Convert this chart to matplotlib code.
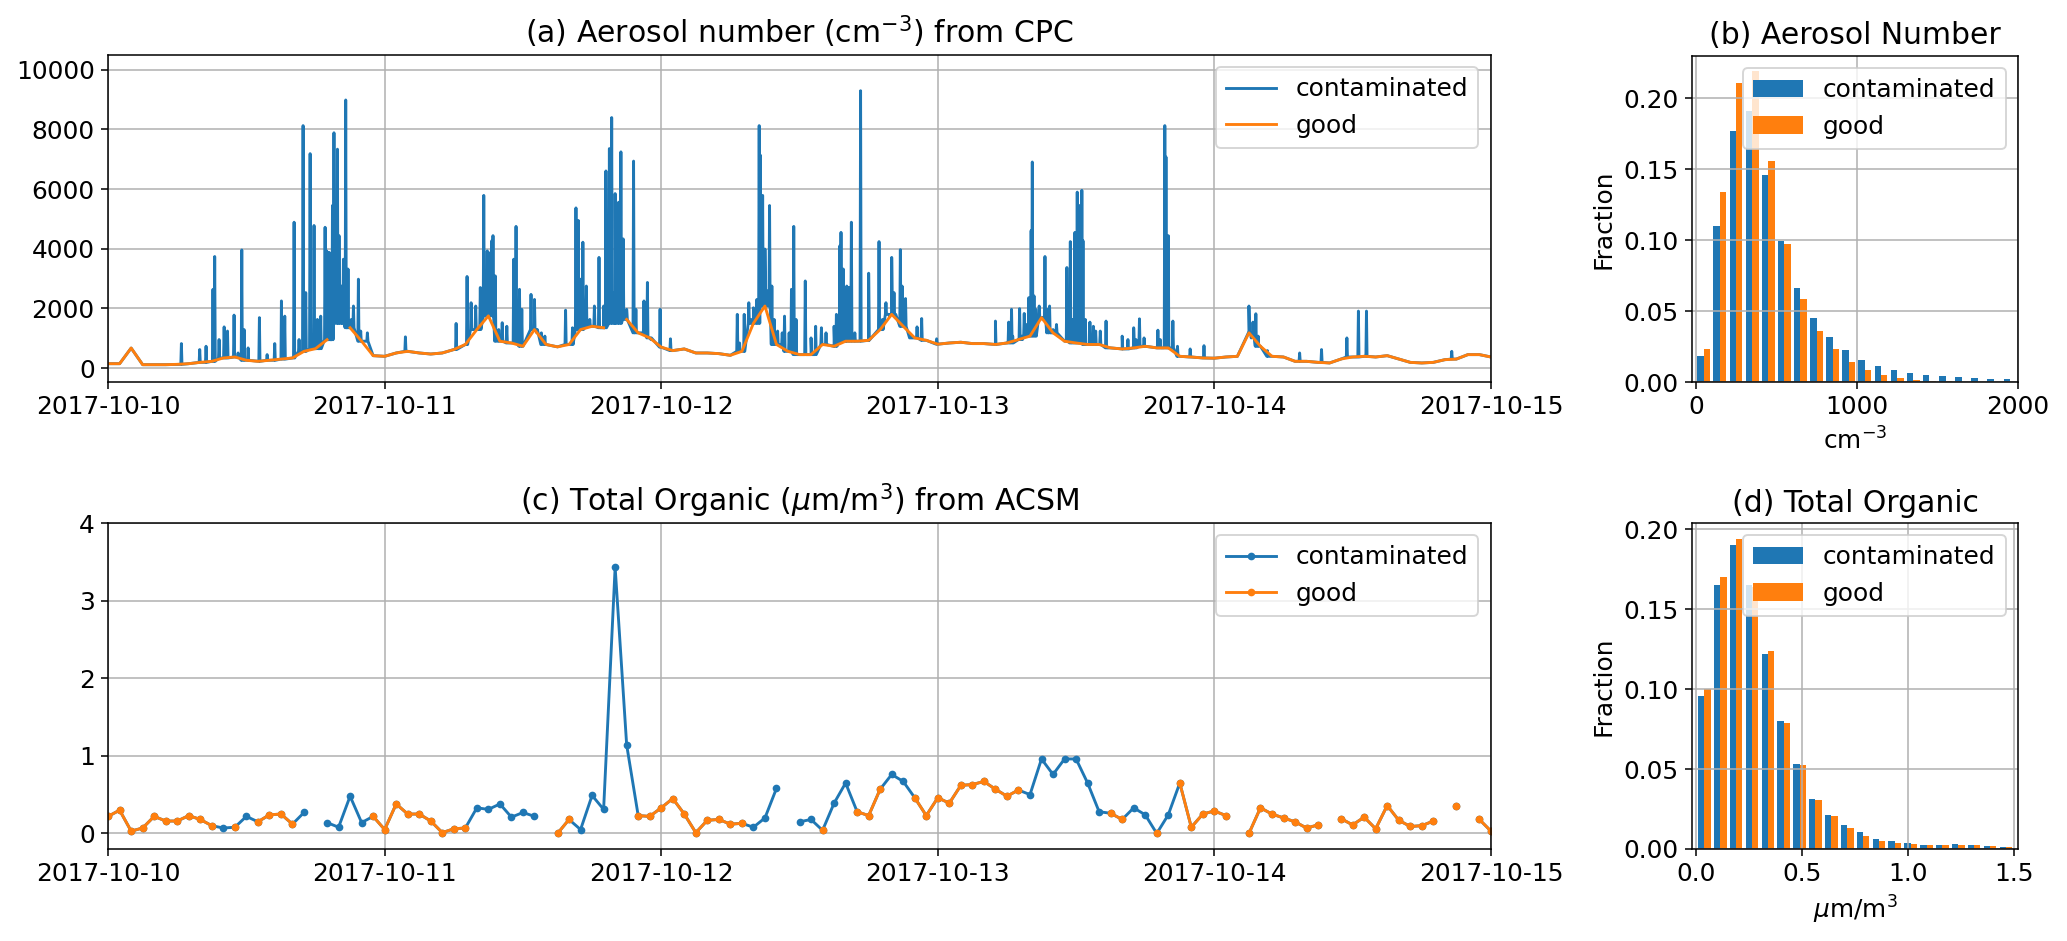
import matplotlib
matplotlib.use("Agg")
import matplotlib.pyplot as plt
import matplotlib.dates as mdates
import numpy as np
import pandas as pd

plt.rcParams["font.size"] = 13

start = pd.Timestamp("2017-10-10")
end = pd.Timestamp("2017-10-15")

# CPC aerosol number: hourly background (cm^-3), hours 0..120 from 2017-10-10 00:00
cpc_base = [146, 146, 670, 112, 112, 112, 124, 146, 190, 225, 337, 370, 260, 225, 260, 300, 337, 560, 650, 950, 1500, 1350, 900, 415,
            393, 505, 560, 505, 470, 505, 620, 790, 1290, 1750, 900, 840, 730, 1290, 790, 710, 790, 1290, 1400, 1350, 1500, 1630, 1180, 1010,
            700, 585, 640, 505, 505, 483, 427, 560, 1500, 2080, 790, 560, 450, 450, 790, 730, 900, 900, 930, 1290, 1800, 1400, 1010, 930,
            800, 840, 865, 820, 820, 790, 840, 955, 1070, 1690, 1180, 900, 840, 790, 790, 675, 640, 675, 730, 675, 675, 393, 370, 337,
            330, 370, 393, 1180, 730, 393, 370, 225, 225, 190, 170, 303, 370, 393, 370, 415, 303, 190, 170, 190, 280, 300, 450, 450, 370]
# hours where the whole hour is flagged as contaminated
cpc_masked_hours = [20, 44]

# contamination spikes: (hour, cm^-3)
spike_hours = [6.36, 7.95, 8.5, 9.1, 9.25, 9.63, 10.07, 10.36, 10.93, 11.28, 11.6, 11.8, 12.15, 13.13, 13.8, 14.46, 15.04, 15.33,
               16.14, 16.57, 16.92, 17.15, 17.53, 17.87, 18.16, 18.45, 18.83, 18.97, 19.18, 19.47, 19.6, 19.9, 20.04, 20.25, 20.42,
               20.62, 20.82, 21.11, 21.29, 21.72, 21.92, 22.5,
               25.8, 30.2, 31.15, 31.5, 31.9, 32.3, 32.6, 32.9, 33.0, 33.3, 33.4, 33.6, 33.9, 34.2, 34.6, 35.2, 35.4, 35.7, 35.9,
               36.7, 37.0, 37.2, 37.6, 37.9, 39.7, 40.3, 40.6, 40.8, 41.0, 41.2, 41.5, 41.8, 42.2, 42.6, 43.0, 43.2, 43.5, 43.7,
               43.9, 44.0, 44.3, 44.5, 44.7, 45.0, 45.6, 45.8, 46.5, 46.8, 47.1, 47.9,
               48.8, 54.6, 54.8, 55.2, 55.6, 55.8, 56.0, 56.3, 56.5, 56.6, 56.8, 57.0, 57.2, 57.4, 57.6, 57.8, 58.1, 58.5, 58.7,
               59.1, 59.3, 59.5, 59.7, 60.5, 61.0, 61.4, 61.9, 62.3, 63.0, 63.2, 63.5, 63.6, 63.8, 64.0, 64.1, 64.3, 64.5, 64.8,
               65.3, 66.0, 66.9, 67.2, 67.5, 67.8, 68.0, 68.2, 68.3, 68.75, 68.9, 69.2, 69.6, 70.2, 70.6, 71.9,
               77.0, 78.15, 78.4, 78.5, 79.1, 79.3, 79.5, 79.7, 79.9, 80.1, 80.2, 80.35, 80.5, 80.8, 81.1, 81.3, 81.5, 81.7,
               82.0, 82.3, 83.2, 83.5, 83.7, 83.9, 84.1, 84.3, 84.5, 84.6, 84.8, 85.2, 85.5, 85.7, 86.1, 86.6, 88.0, 88.5, 89.0,
               89.2, 89.5, 89.9, 91.1, 91.3, 91.7, 91.8, 92.0, 92.4, 92.8, 93.9, 95.1,
               99.0, 99.2, 99.35, 99.6, 99.8, 100.6, 103.4, 105.3, 107.5, 108.5, 109.2, 116.6]
spike_values = [820, 620, 730, 2640, 3740, 955, 1380, 1240, 1775, 505, 3960, 1290, 675, 1690, 450, 820, 2250, 1740,
                4890, 955, 8130, 2530, 7190, 4780, 1630, 1740, 4720, 3930, 3880, 5450, 7890, 7340, 4440, 2750, 3650,
                8990, 3320, 1630, 2080, 2980, 1240, 1180,
                1045, 1495, 3070, 2190, 2080, 2700, 5790, 3930, 3880, 4270, 4440, 3090, 1290, 1520, 1400, 3650, 4750, 2640, 1970,
                2470, 2300, 1180, 1180, 1070, 1940, 1350, 5370, 4950, 2980, 4220, 2750, 1630, 2080, 3710, 2080, 6610, 7360, 8400,
                2530, 5850, 5560, 7250, 4330, 1970, 6940, 1970, 2250, 2870, 955, 1970,
                980, 1800, 840, 1800, 2190, 1630, 2020, 2300, 8130, 7140, 5790, 3990, 2590, 5450, 2750, 1630, 1240, 1180, 1740,
                1180, 2640, 4750, 1630, 2920, 1010, 1400, 1350, 1180, 1400, 1800, 4100, 4550, 3320, 1740, 2750, 2700, 4890, 1180,
                9300, 3180, 4240, 1630, 2190, 1740, 3710, 2530, 1740, 3970, 2750, 2330, 1070, 1380, 1660, 980,
                1575, 1540, 1970, 1070, 1990, 1070, 1830, 1460, 2360, 4610, 6910, 2420, 1970, 2080, 1630, 3740, 1970, 2080,
                1290, 1460, 3370, 4240, 1630, 4550, 5900, 5450, 5960, 4270, 1630, 1540, 1400, 1240, 1240, 1575, 1070, 955, 1350,
                955, 1650, 1010, 1270, 955, 8130, 7080, 4440, 1575, 730, 640, 750,
                2080, 1010, 1540, 1820, 1070, 585, 505, 620, 1010, 1910, 1910, 560]
spike_halfwidth = 0.05  # hours

# ACSM total organic, hourly; flag g = good, c = contaminated, - = missing
organic = [0.22, 0.30, 0.03, 0.07, 0.22, 0.16, 0.16, 0.23, 0.18, 0.10, 0.07, 0.08, 0.22, 0.15, 0.24, 0.25, 0.12, 0.27, np.nan, 0.14,
           0.08, 0.48, 0.14, 0.22, 0.05, 0.38, 0.25, 0.25, 0.16, 0.01, 0.06, 0.07, 0.33, 0.31, 0.38, 0.21, 0.27, 0.22, np.nan, 0.00,
           0.18, 0.05, 0.49, 0.31, 3.43, 1.14, 0.23, 0.22, 0.33, 0.45, 0.25, 0.01, 0.17, 0.18, 0.12, 0.13, 0.08, 0.20, 0.58, np.nan,
           0.15, 0.18, 0.04, 0.39, 0.65, 0.28, 0.23, 0.57, 0.76, 0.67, 0.46, 0.23, 0.46, 0.39, 0.62, 0.63, 0.67, 0.57, 0.48, 0.56,
           0.50, 0.96, 0.76, 0.96, 0.96, 0.65, 0.28, 0.26, 0.18, 0.33, 0.24, 0.00, 0.24, 0.65, 0.08, 0.25, 0.29, 0.23, np.nan, 0.00,
           0.33, 0.25, 0.20, 0.15, 0.07, 0.11, np.nan, 0.19, 0.11, 0.21, 0.06, 0.36, 0.17, 0.09, 0.10, 0.16, np.nan, 0.35, np.nan, 0.18,
           0.03]
organic_flag = ("ggggggggggcgcggggc-c"   # 0-19
                "cccgggggggggcccccc-g"   # 20-39
                "gcccccggggggggggccc-"   # 40-59
                "ccgccgggccgggggggggg"   # 60-79
                "cccccccggccgcggggg-g"   # 80-99
                "gggggg-ggggggggg-g-g"   # 100-119
                "g")                     # 120

# histograms: fraction per bin
cpc_edges = [0, 100, 200, 300, 400, 500, 600, 700, 800, 900, 1000, 1100, 1200, 1300, 1400, 1500, 1600, 1700, 1800, 1900, 2000]
cpc_hist_cont = [0.0181, 0.110, 0.177, 0.191, 0.146, 0.0995, 0.066, 0.045, 0.0318, 0.0224, 0.0158, 0.0113, 0.0082, 0.0064,
                 0.005, 0.004, 0.0033, 0.0026, 0.0021, 0.0019]
cpc_hist_good = [0.0231, 0.134, 0.211, 0.219, 0.156, 0.0976, 0.0586, 0.036, 0.023, 0.0144, 0.0082, 0.0052, 0.0028, 0.0016,
                 0.001, 0.0005, 0.0003, 0.0002, 0.0001, 0.0001]
org_edges = [0.0, 0.075, 0.15, 0.225, 0.3, 0.375, 0.45, 0.525, 0.6, 0.675, 0.75, 0.825, 0.9, 0.975, 1.05, 1.125, 1.2,
             1.275, 1.35, 1.425, 1.5]
org_hist_cont = [0.0957, 0.165, 0.1904, 0.1652, 0.122, 0.0799, 0.0534, 0.0315, 0.0211, 0.0152, 0.0104, 0.0065, 0.005, 0.0038,
                 0.0027, 0.0027, 0.0029, 0.0025, 0.0021, 0.0015]
org_hist_good = [0.1001, 0.1704, 0.1942, 0.1641, 0.1241, 0.0788, 0.0528, 0.0306, 0.0206, 0.0133, 0.0081, 0.005, 0.0035, 0.0029,
                 0.0027, 0.0025, 0.0027, 0.0025, 0.0019, 0.0012]


def to_time(hours):
    return (start + pd.to_timedelta(np.asarray(hours, dtype=float), unit="h")).to_numpy()


# build CPC series: background plus narrow spikes
base_hours = np.arange(len(cpc_base))
good_cpc = np.array(cpc_base, dtype=float)
good_cpc[cpc_masked_hours] = np.nan

sh = np.array(spike_hours)
sv = np.array(spike_values, dtype=float)
sb = np.array(cpc_base, dtype=float)[np.round(sh).astype(int)]
all_hours = np.concatenate([base_hours, sh - spike_halfwidth, sh, sh + spike_halfwidth])
all_vals = np.concatenate([cpc_base, sb, sv, sb]).astype(float)
order = np.argsort(all_hours, kind="stable")
all_hours, all_vals = all_hours[order], all_vals[order]

# build organic series
org_all = np.array(organic, dtype=float)
org_good = np.where(np.array(list(organic_flag)) == "g", org_all, np.nan)
org_hours = np.arange(len(organic))

fig = plt.figure(figsize=(2067 / 138, 941 / 138), dpi=138)
ax_a = fig.add_axes([0.0523, 0.594, 0.669, 0.3476])
ax_b = fig.add_axes([0.8186, 0.594, 0.1577, 0.3466])
ax_c = fig.add_axes([0.0523, 0.0978, 0.669, 0.3464])
ax_d = fig.add_axes([0.8186, 0.0978, 0.1577, 0.3464])

# (a)
ax_a.plot(to_time(all_hours), all_vals, color="tab:blue", label="contaminated")
ax_a.plot(to_time(base_hours), good_cpc, color="tab:orange", label="good")
ax_a.set_title("(a) Aerosol number (cm$^{-3}$) from CPC")
ax_a.set_ylim(-470, 10500)
ax_a.legend(loc="upper right")

# (c)
ax_c.plot(to_time(org_hours), org_all, ".-", color="tab:blue", label="contaminated")
ax_c.plot(to_time(org_hours), org_good, ".-", color="tab:orange", label="good")
ax_c.set_title("(c) Total Organic ($\\mu$m/m$^3$) from ACSM")
ax_c.set_ylim(-0.2, 4)
ax_c.legend(loc="upper right")

for ax in (ax_a, ax_c):
    ax.set_xlim(start, end)
    ax.xaxis.set_major_locator(mdates.DayLocator())
    ax.xaxis.set_major_formatter(mdates.DateFormatter("%Y-%m-%d"))
    ax.grid(True)

# (b)
cpc_edges = np.array(cpc_edges, dtype=float)
cpc_mid = (cpc_edges[:-1] + cpc_edges[1:]) / 2
ax_b.hist([cpc_mid, cpc_mid], bins=cpc_edges, weights=[cpc_hist_cont, cpc_hist_good],
          color=["tab:blue", "tab:orange"], label=["contaminated", "good"])
ax_b.set_title("(b) Aerosol Number")
ax_b.set_xlabel("cm$^{-3}$")
ax_b.set_ylabel("Fraction")
ax_b.set_xlim(-23, 2000)
ax_b.legend(loc="upper right")
ax_b.grid(True)

# (d)
org_edges = np.array(org_edges)
org_mid = (org_edges[:-1] + org_edges[1:]) / 2
ax_d.hist([org_mid, org_mid], bins=org_edges, weights=[org_hist_cont, org_hist_good],
          color=["tab:blue", "tab:orange"], label=["contaminated", "good"])
ax_d.set_title("(d) Total Organic")
ax_d.set_xlabel("$\\mu$m/m$^3$")
ax_d.set_ylabel("Fraction")
ax_d.set_xlim(-0.021, 1.52)
ax_d.legend(loc="upper right")
ax_d.grid(True)

fig.savefig("out.png", dpi=138)
